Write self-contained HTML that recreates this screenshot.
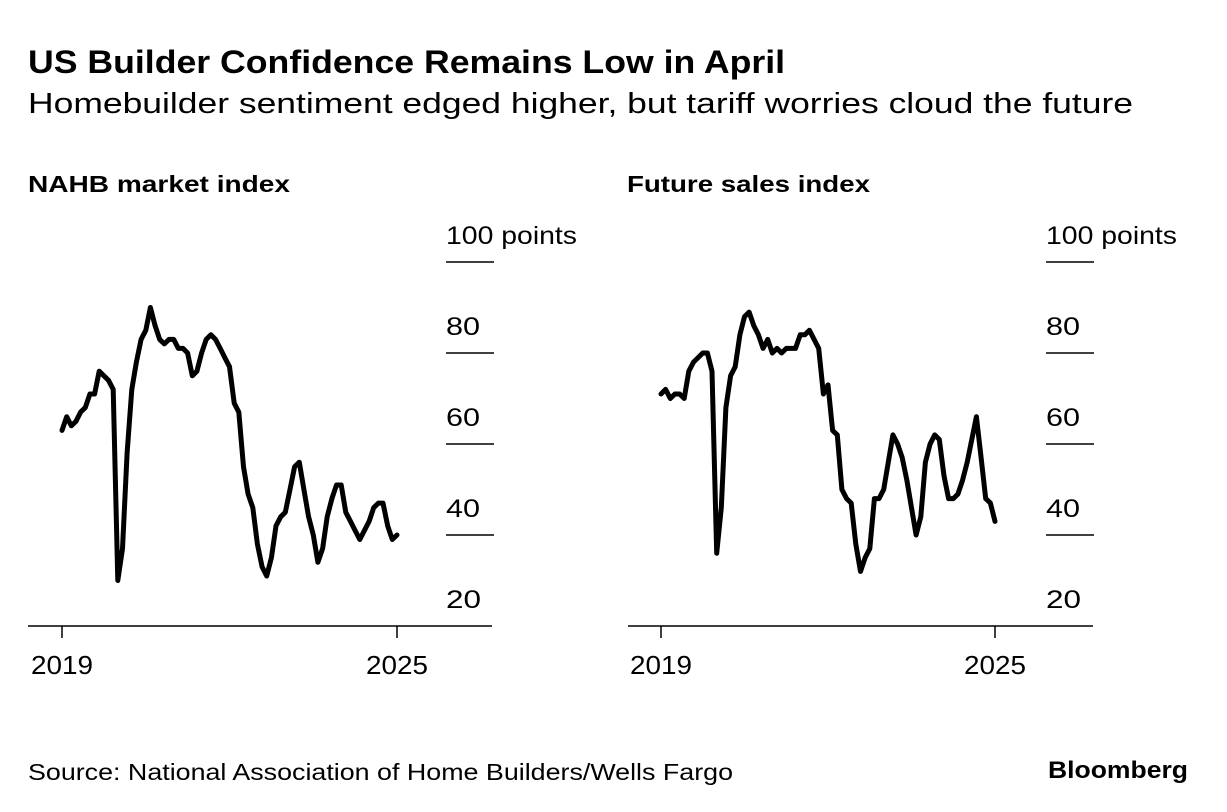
<!DOCTYPE html>
<html><head><meta charset="utf-8"><style>
body{margin:0;background:#fff;width:1227px;height:812px;overflow:hidden;font-family:"Liberation Sans",sans-serif;color:#000}
svg{position:absolute;left:0;top:0}
</style></head><body>
<svg id="chart" width="1227" height="812" xmlns="http://www.w3.org/2000/svg" font-family="Liberation Sans, sans-serif">
<text x="28" y="73" font-size="32" font-weight="bold" textLength="757" lengthAdjust="spacingAndGlyphs">US Builder Confidence Remains Low in April</text>
<text x="28" y="113" font-size="29" textLength="1105" lengthAdjust="spacingAndGlyphs">Homebuilder sentiment edged higher, but tariff worries cloud the future</text>
<text x="28" y="192" font-size="23" font-weight="bold" textLength="262" lengthAdjust="spacingAndGlyphs">NAHB market index</text>
<text x="627" y="192" font-size="23" font-weight="bold" textLength="243" lengthAdjust="spacingAndGlyphs">Future sales index</text>
<text x="28" y="780" font-size="23" textLength="705" lengthAdjust="spacingAndGlyphs">Source: National Association of Home Builders/Wells Fargo</text>
<text x="1048" y="778" font-size="24" font-weight="bold" textLength="140" lengthAdjust="spacingAndGlyphs">Bloomberg</text>
<g id="panels"></g>
</svg>
<script>
const yTicks=[20,40,60,80,100];
const xTickLabels=["2019","2025"];
const xTickIdx=[0,72];
const nahbValues=[63,66,64,65,67,68,71,71,76,
75,74,72,30,37,58,72,78,83,85,90,86,
83,82,83,83,81,81,80,75,76,80,83,84,
83,81,79,77,69,67,55,49,46,38,33,31,
35,42,44,45,50,55,56,50,44,40,34,37,
44,48,51,51,45,43,41,39,41,43,46,47,
47,42,39,40];
const futureValues=[71,72,70,71,71,70,76,78,79,80,80,76,
36,46,68,75,77,84,88,89,86,84,81,83,
80,81,80,81,81,81,84,84,85,83,81,71,
73,63,62,50,48,47,38,32,35,37,48,48,
50,56,62,60,57,52,46,40,44,56,60,62,
61,53,48,48,49,52,56,61,66,57,48,47,43];
const NS='http://www.w3.org/2000/svg';
const g=document.getElementById('panels');
function mk(tag,attrs,parent){const e=document.createElementNS(NS,tag);for(const k in attrs)e.setAttribute(k,attrs[k]);parent.appendChild(e);return e;}
function yScale(v){return 626-(v-20)*4.55;}
function drawPanel(prefix,x0,x1,axisL,axisR,gridL,values){
  const xs=i=>x0+(x1-x0)*i/72;
  const grp=mk('g',{},g);
  
  
  yTicks.forEach(t=>{
    if(t>20){const l=mk('line',{x1:gridL,x2:gridL+48,y1:yScale(t),y2:yScale(t),stroke:'#000','stroke-width':1.5},grp);
      
      }
    const attrs={x:gridL,y:yScale(t)-18,'font-size':25};
    if(t===100){attrs.textLength=131;attrs.lengthAdjust='spacingAndGlyphs';}
    else{attrs.textLength=t===20?35:34;attrs.lengthAdjust='spacingAndGlyphs';}
    const tx=mk('text',attrs,grp);
    tx.textContent=t===100?'100 points':String(t);
    
    
  });
  const base=mk('line',{x1:axisL,x2:axisR,y1:626,y2:626,stroke:'#000','stroke-width':1.5},grp);
  
  
  xTickIdx.forEach((ix,k)=>{
    const tk=mk('line',{x1:xs(ix),x2:xs(ix),y1:626,y2:638,stroke:'#000','stroke-width':1.5},grp);
    
    
    const lb=mk('text',{x:xs(ix)-31,y:674,'font-size':26,textLength:62,lengthAdjust:'spacingAndGlyphs'},grp);
    lb.textContent=xTickLabels[k];
    
    
  });
  const d=values.map((v,i)=>(i?'L':'M')+xs(i).toFixed(1)+','+yScale(v).toFixed(1)).join('');
  const p=mk('path',{d:d,fill:'none',stroke:'#000','stroke-width':5,'stroke-linejoin':'round','stroke-linecap':'round'},grp);
  
  
}
drawPanel('nahb',62,397,28,492,446,nahbValues);
drawPanel('future-sales',661,995,628,1093,1046,futureValues);
</script>
</body></html>
